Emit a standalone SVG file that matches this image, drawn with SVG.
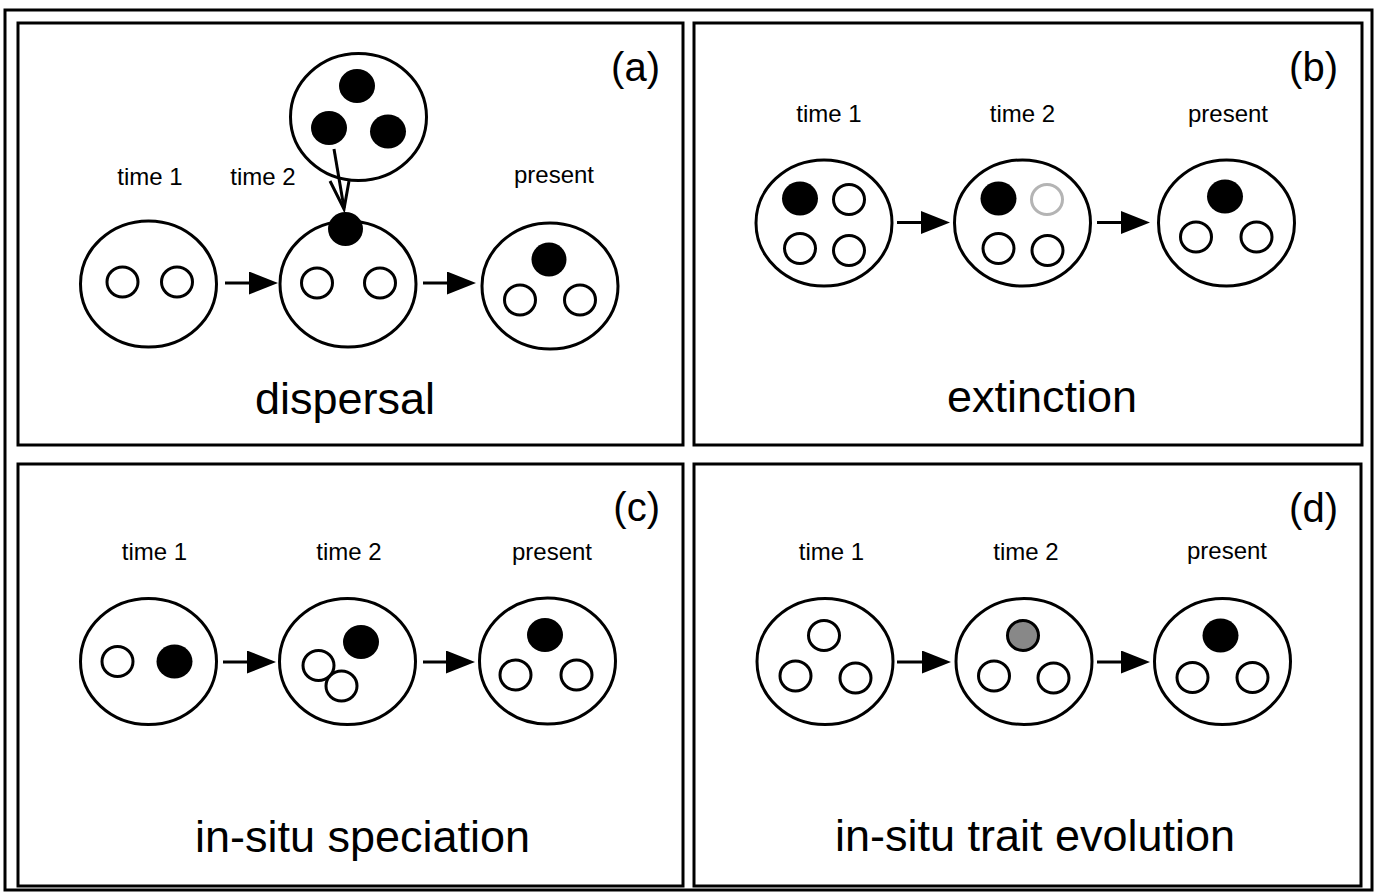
<svg xmlns="http://www.w3.org/2000/svg" width="1378" height="893" viewBox="0 0 1378 893">
<defs>
<style>
.frame{fill:none;stroke:#000;stroke-width:3}
.big{fill:#fff;stroke:#000;stroke-width:3}
.open{fill:#fff;stroke:#000;stroke-width:3}
.ghost{fill:#fff;stroke:#b4b4b4;stroke-width:3}
.grey{fill:#888;stroke:#000;stroke-width:3}
.dot{fill:#000}
.lbl{font-family:"Liberation Sans",Arial,Helvetica,sans-serif;font-size:24px;text-anchor:middle;fill:#000}
.title{font-size:45px}
.tag{font-size:40px;text-anchor:end}
.arr{stroke:#000;stroke-width:3;fill:none}
</style>
<marker id="tri" markerUnits="userSpaceOnUse" markerWidth="30" markerHeight="24" viewBox="0 0 30 24" refX="24" refY="11.5" orient="auto">
<path d="M0,0 L29,11.5 L0,23 Z" fill="#000"/>
</marker>
</defs>
<rect width="1378" height="893" fill="#fff"/>
<rect class="frame" x="5" y="10" width="1367" height="880"/>

<!-- Panel (a) -->
<g id="panel-a">
<rect class="frame" x="18" y="23" width="665" height="422"/>
<text class="lbl tag" x="660" y="81">(a)</text>
<text class="lbl" x="150" y="185">time 1</text>
<text class="lbl" x="263" y="185">time 2</text>
<text class="lbl" x="554" y="183">present</text>
<text class="lbl title" x="345" y="414">dispersal</text>
<g id="a-source">
<ellipse class="big" cx="358.5" cy="117" rx="68" ry="63.5"/>
<ellipse class="dot" cx="357" cy="86" rx="18" ry="17"/>
<ellipse class="dot" cx="329" cy="128" rx="18" ry="17"/>
<ellipse class="dot" cx="388" cy="131.5" rx="18" ry="17"/>
</g>
<g id="a-time1">
<ellipse class="big" cx="148.5" cy="284" rx="68" ry="63"/>
<ellipse class="open" cx="122.5" cy="282" rx="15.5" ry="15"/>
<ellipse class="open" cx="177" cy="282" rx="15.5" ry="15"/>
</g>
<g id="a-time2">
<ellipse class="big" cx="348" cy="284" rx="68" ry="63"/>
<ellipse class="open" cx="317" cy="283" rx="15.5" ry="15"/>
<ellipse class="open" cx="380" cy="283" rx="15.5" ry="15"/>
<ellipse class="dot" cx="345.5" cy="229" rx="17.5" ry="17"/>
</g>
<g id="a-present">
<ellipse class="big" cx="550" cy="286" rx="68" ry="63"/>
<ellipse class="dot" cx="549" cy="259.5" rx="17.5" ry="17"/>
<ellipse class="open" cx="520" cy="300" rx="15.5" ry="15"/>
<ellipse class="open" cx="580" cy="300" rx="15.5" ry="15"/>
</g>
</g>

<!-- Panel (b) -->
<g id="panel-b">
<rect class="frame" x="694" y="23" width="668" height="422"/>
<text class="lbl tag" x="1338" y="81">(b)</text>
<text class="lbl" x="829" y="122">time 1</text>
<text class="lbl" x="1022.5" y="122">time 2</text>
<text class="lbl" x="1228" y="122">present</text>
<text class="lbl title" x="1042" y="412">extinction</text>
<g id="b-time1">
<ellipse class="big" cx="824" cy="223" rx="68" ry="63"/>
<ellipse class="dot" cx="800" cy="198.5" rx="18" ry="17"/>
<ellipse class="open" cx="849" cy="199.5" rx="15.5" ry="15"/>
<ellipse class="open" cx="800" cy="248.5" rx="15.5" ry="15"/>
<ellipse class="open" cx="849" cy="250.5" rx="15.5" ry="15"/>
</g>
<g id="b-time2">
<ellipse class="big" cx="1022.5" cy="223" rx="68" ry="63"/>
<ellipse class="dot" cx="998.5" cy="198.5" rx="18" ry="17"/>
<ellipse class="ghost" cx="1047" cy="199.5" rx="15.5" ry="15"/>
<ellipse class="open" cx="998.5" cy="248.5" rx="15.5" ry="15"/>
<ellipse class="open" cx="1047.5" cy="250.5" rx="15.5" ry="15"/>
</g>
<g id="b-present">
<ellipse class="big" cx="1226.5" cy="223" rx="68" ry="63"/>
<ellipse class="dot" cx="1225" cy="196.5" rx="18" ry="17"/>
<ellipse class="open" cx="1196" cy="237" rx="15.5" ry="15"/>
<ellipse class="open" cx="1256.5" cy="237" rx="15.5" ry="15"/>
</g>
</g>

<!-- Panel (c) -->
<g id="panel-c">
<rect class="frame" x="18" y="464" width="665" height="422"/>
<text class="lbl tag" x="660" y="521">(c)</text>
<text class="lbl" x="154.5" y="560">time 1</text>
<text class="lbl" x="349" y="560">time 2</text>
<text class="lbl" x="552" y="560">present</text>
<text class="lbl title" x="362.5" y="852">in-situ speciation</text>
<g id="c-time1">
<ellipse class="big" cx="148.5" cy="661.5" rx="68" ry="63"/>
<ellipse class="open" cx="117.5" cy="661.5" rx="15.5" ry="15"/>
<ellipse class="dot" cx="174.5" cy="661.5" rx="18" ry="17"/>
</g>
<g id="c-time2">
<ellipse class="big" cx="347.5" cy="661.5" rx="68" ry="63"/>
<ellipse class="dot" cx="361" cy="642" rx="18" ry="17"/>
<ellipse class="open" cx="318.5" cy="665.5" rx="15.5" ry="15"/>
<ellipse class="open" cx="341.5" cy="686" rx="15.5" ry="15"/>
</g>
<g id="c-present">
<ellipse class="big" cx="547.5" cy="661" rx="68" ry="63"/>
<ellipse class="dot" cx="545" cy="635" rx="18" ry="17"/>
<ellipse class="open" cx="515.5" cy="675" rx="15.5" ry="15"/>
<ellipse class="open" cx="576.5" cy="675" rx="15.5" ry="15"/>
</g>
</g>

<!-- Panel (d) -->
<g id="panel-d">
<rect class="frame" x="694" y="464" width="667" height="422"/>
<text class="lbl tag" x="1338" y="522">(d)</text>
<text class="lbl" x="831.5" y="560">time 1</text>
<text class="lbl" x="1026" y="560">time 2</text>
<text class="lbl" x="1227" y="559">present</text>
<text class="lbl title" x="1035" y="851">in-situ trait evolution</text>
<g id="d-time1">
<ellipse class="big" cx="825" cy="661.5" rx="68" ry="63"/>
<ellipse class="open" cx="824" cy="635.5" rx="15.5" ry="15"/>
<ellipse class="open" cx="795.5" cy="676" rx="15.5" ry="15"/>
<ellipse class="open" cx="855.5" cy="678" rx="15.5" ry="15"/>
</g>
<g id="d-time2">
<ellipse class="big" cx="1024" cy="661.5" rx="68" ry="63"/>
<ellipse class="grey" cx="1023" cy="635.5" rx="15.5" ry="15"/>
<ellipse class="open" cx="994" cy="676" rx="15.5" ry="15"/>
<ellipse class="open" cx="1053.5" cy="678" rx="15.5" ry="15"/>
</g>
<g id="d-present">
<ellipse class="big" cx="1222.5" cy="661.5" rx="68" ry="63"/>
<ellipse class="dot" cx="1220.5" cy="635.5" rx="18" ry="17"/>
<ellipse class="open" cx="1192.5" cy="677.5" rx="15.5" ry="15"/>
<ellipse class="open" cx="1252.5" cy="677.5" rx="15.5" ry="15"/>
</g>
</g>

<!-- Connectors -->
<g id="connectors">
<line class="arr" x1="225" y1="283" x2="273" y2="283" marker-end="url(#tri)"/>
<line class="arr" x1="423" y1="283" x2="471" y2="283" marker-end="url(#tri)"/>
<line class="arr" x1="897" y1="222.5" x2="945" y2="222.5" marker-end="url(#tri)"/>
<line class="arr" x1="1097" y1="222.5" x2="1145" y2="222.5" marker-end="url(#tri)"/>
<line class="arr" x1="223" y1="662" x2="271" y2="662" marker-end="url(#tri)"/>
<line class="arr" x1="423" y1="662" x2="470" y2="662" marker-end="url(#tri)"/>
<line class="arr" x1="897" y1="662" x2="946" y2="662" marker-end="url(#tri)"/>
<line class="arr" x1="1097" y1="662" x2="1145" y2="662" marker-end="url(#tri)"/>
<line class="arr" x1="334" y1="149" x2="344" y2="208"/>
<polyline class="arr" points="330,181 344,209 349,181"/>
</g>
</svg>
